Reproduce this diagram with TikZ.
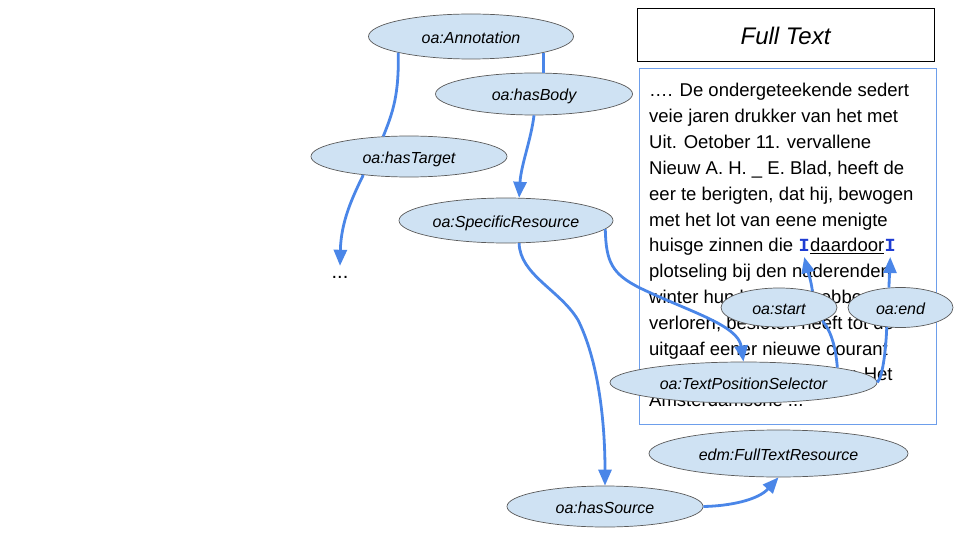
\documentclass[tikz,border=0pt]{standalone}
\usepackage{fontspec}
\setmainfont{Liberation Sans}
\setmonofont{Liberation Mono}
\usetikzlibrary{
  arrows.meta,
  positioning,
  shapes.geometric,
}
\definecolor{linkblue}{RGB}{74,134,232}
\definecolor{propfill}{RGB}{207,226,243}
\definecolor{propline}{RGB}{90,90,90}
\definecolor{boxblue}{RGB}{109,158,235}
\definecolor{cursorblue}{RGB}{30,60,210}
\tikzset{
  prop/.style = {ellipse, draw=propline, fill=propfill, line width=0.7pt,
      inner sep=0pt, minimum width=#1, minimum height=41pt,
      text height=14pt, text depth=0pt,
      font=\itshape\fontsize{16}{19}\selectfont},
  prop/.default = 196pt, % width of the ellipse
  link/.style = {linkblue, line width=2.8pt},
  arr/.style = {link, -{Triangle[length=16pt, width=13pt]}},
  txt/.style = {anchor=base west, inner sep=0pt,
      font=\fontsize{18.5}{22}\selectfont},
  cursor/.style = {anchor=base west, inner xsep=0pt, inner ysep=5pt,
      text=cursorblue, font=\ttfamily\bfseries\fontsize{18.5}{22}\selectfont},
}

\begin{document}
\begin{tikzpicture}[x=1pt, y=-1pt]
  \useasboundingbox (0,0) rectangle (960,540);

  % the full text page
  \node[draw, line width=1pt, minimum width=297pt, minimum height=53pt,
    inner sep=0pt, text height=19pt, text depth=0pt,
    font=\itshape\fontsize{24}{28}\selectfont] (title) at (785.5,35.5) {Full Text};
  \node[draw=boxblue, line width=0.8pt, minimum width=297pt,
    minimum height=356pt] (page) at (787.5,246) {};

  \foreach \n/\t in {
      0/{…. De ondergeteekende sedert},
      1/{veie jaren drukker van het met},
      2/{Uit. Oetober 11. vervallene},
      3/{Nieuw A. H. \_ E. Blad, heeft de},
      4/{eer te berigten, dat hij, bewogen},
      5/{met het lot van eene menigte},
      7/{plotseling bij den naderenden},
      8/{winter hun bestaan hebben},
      9/{verloren, besloten heeft tot de},
      10/{uitgaaf eener nieuwe courant},
      11/{onder den eigen titel van: Het},
      12/{Amsterdamsche ...}}
    \node[txt] (ln\n) at (649, {97+25.8*\n}) {\t};

  \node[txt] (ln6) at (649, {97+25.8*6}) {huisge zinnen die};
  \node[cursor, xshift=5.1pt] (cs1) at (ln6.base east) {I};
  \node[txt] (dd) at (cs1.base east) {\underline{daardoor}};
  \node[cursor] (cs2) at (dd.base east) {I};

  % the annotation graph
  \node[prop=205pt, minimum height=45pt] (ann) at (471,36.5) {oa:Annotation};
  \node[prop=197pt, minimum height=42pt] (hb) at (534,94) {oa:hasBody};
  \node[prop] (ht) at (409,156.5) {oa:hasTarget};
  \node[prop=214pt, minimum height=45pt] (sr) at (506,220.5) {oa:SpecificResource};
  \node[inner sep=0pt, text height=12pt, anchor=base,
    font=\fontsize{20}{24}\selectfont] (dots) at (340,278) {...};
  \node[prop=116pt, minimum height=39pt] (st) at (779,307.5) {oa:start};
  \node[prop=105pt, minimum height=40pt] (oe) at (900.5,307.5) {oa:end};
  \node[prop=267pt] (tps) at (743.5,382.5) {oa:TextPositionSelector};
  \node[prop=259pt, minimum height=47pt] (ftr) at (778.5,453.5) {edm:FullTextResource};
  \node[prop] (hs) at (605,506.5) {oa:hasSource};

  \draw[link] (ann.south west) .. controls (399,95) and (393,112) .. (ht.142);
  \draw[arr] (ht.202) .. controls (352,198) and (341,222) .. (dots.north);

  \draw[link] (ann.south east) -- (ann.south east |- hb.north);
  \draw[arr] (hb.south) .. controls (531,140) and (521,165) .. (sr.60);

  \draw[arr] (sr.-60) .. controls (520,275) and (560,290) .. (578,320)
    .. controls (598,360) and (605,420) .. (hs.north);
  \draw[arr] (sr.-5) .. controls (606,262) and (612,274) .. (640,288)
    .. controls (690,312) and (738,325) .. (tps.north);

  \draw[link] (tps.9) .. controls (836,350) and (832,332) .. (st.-17);
  \draw[arr] (st.26) .. controls (811,280) and (808,272) .. (cs1.south);
  \draw[link] (tps.east) .. controls (883,376) and (886,348) .. (oe.235);
  \draw[arr] (oe.120) .. controls (889,278) and (890,270) .. (cs2.south);

  \draw[arr] (hs.east) .. controls (730,506) and (758,500) .. (ftr.south);
\end{tikzpicture}
\end{document}
